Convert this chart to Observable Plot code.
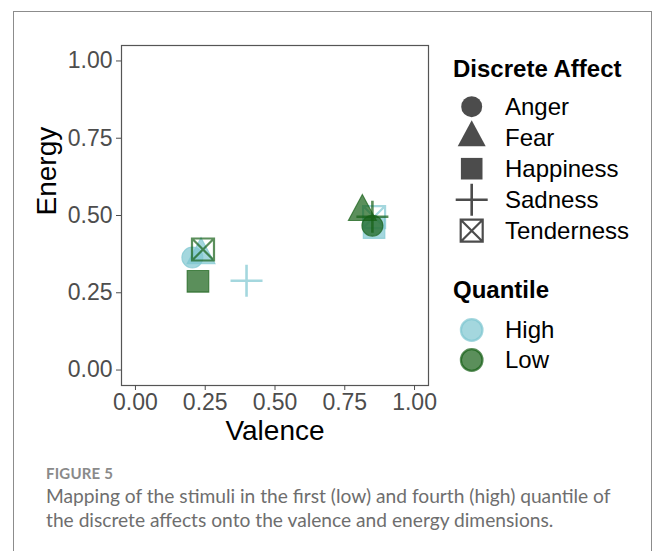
<!DOCTYPE html>
<html>
<head>
<meta charset="utf-8">
<script src="https://cdn.jsdelivr.net/npm/d3@7"></script>
<script src="https://cdn.jsdelivr.net/npm/@observablehq/plot@0.6"></script>
<style>
  html, body { margin: 0; padding: 0; background: #fff; }
  body { width: 658px; height: 551px; position: relative; overflow: hidden; font-family: "Liberation Sans", Arial, sans-serif; }
  #frame { position: absolute; left: 13px; top: 11px; width: 639px; height: 620px; border: 1.5px solid #8c8c8c; box-sizing: border-box; }
  #chart { position: absolute; left: 0; top: 0; }
  #legend { position: absolute; left: 440px; top: 40px; }
  #figlabel { position: absolute; left: 46px; top: 464px; font-family: Lato, sans-serif; font-weight: 700; font-size: 15px; color: #8a8a8a; letter-spacing: 0.2px; }
  #figtext { position: absolute; left: 46px; top: 484px; width: 575px; font-family: Lato, sans-serif; font-size: 19.2px; line-height: 23.5px; color: #6e6e6e; }
</style>
</head>
<body>
<div id="frame"></div>
<div id="chart"></div>
<div id="legend"></div>
<div id="figlabel">FIGURE 5</div>
<div id="figtext">Mapping of the stimuli in the first (low) and fourth (high) quantile of the discrete affects onto the valence and energy dimensions.</div>
<script>
// ---- data ----
const affects = ["Anger", "Fear", "Happiness", "Sadness", "Tenderness"];
const quantiles = ["High", "Low"];
const highValence = [0.204, 0.235, 0.855, 0.398, 0.855];
const highEnergy  = [0.364, 0.372, 0.461, 0.289, 0.495];
const lowValence  = [0.849, 0.813, 0.224, 0.849, 0.242];
const lowEnergy   = [0.467, 0.512, 0.287, 0.496, 0.390];
const xTicks = [0, 0.25, 0.5, 0.75, 1];
const yTicks = [0, 0.25, 0.5, 0.75, 1];
const xLabel = "Valence";
const yLabel = "Energy";
const legendTitleShape = "Discrete Affect";
const legendTitleColor = "Quantile";

const points = [];
affects.forEach((a, i) => points.push({affect: a, quantile: "High", valence: highValence[i], energy: highEnergy[i]}));
affects.forEach((a, i) => points.push({affect: a, quantile: "Low", valence: lowValence[i], energy: lowEnergy[i]}));

// ---- styles ----
const FONT = '"Liberation Sans", Arial, Helvetica, sans-serif';
const qColors = ["#7ec6d0", "#156015"];
const alpha = 0.7;
const R = 10.5;
const strokedAffects = ["Sadness", "Tenderness"];

// custom symbols (ggplot-like shapes 19, 17, 15, 3, 7)
const sc = size => Math.sqrt(size / Math.PI) / R;
const circleSym = {draw(ctx, size) { const r = Math.sqrt(size / Math.PI); ctx.moveTo(r, 0); ctx.arc(0, 0, r, 0, 2 * Math.PI); }};
const triSym = {draw(ctx, size) { const s = sc(size), h = 26 * s, b = 28 * s; ctx.moveTo(0, -2 * h / 3); ctx.lineTo(b / 2, h / 3); ctx.lineTo(-b / 2, h / 3); ctx.closePath(); }};
const squareSym = {draw(ctx, size) { const s = sc(size), a = 10.8 * s; ctx.rect(-a, -a, 2 * a, 2 * a); }};
const crossSym = {draw(ctx, size) { const s = sc(size), L = 16 * s; ctx.moveTo(-L, 0); ctx.lineTo(L, 0); ctx.moveTo(0, -L); ctx.lineTo(0, L); }};
const boxXSym = {draw(ctx, size) { const s = sc(size), a = 11 * s; ctx.rect(-a, -a, 2 * a, 2 * a); ctx.moveTo(-a, -a); ctx.lineTo(a, a); ctx.moveTo(a, -a); ctx.lineTo(-a, a); }};
const symbolRange = [circleSym, triSym, squareSym, crossSym, boxXSym];
const strokeW = {Sadness: 2.6, Tenderness: 2.2};

const marks = [Plot.frame({stroke: "#555", strokeWidth: 1.2})];
for (const q of quantiles) {
  marks.push(Plot.dot(points.filter(d => d.quantile === q && !strokedAffects.includes(d.affect)), {
    x: "valence", y: "energy", symbol: "affect", fill: "quantile", stroke: "quantile",
    r: R, fillOpacity: alpha, strokeOpacity: alpha, strokeWidth: 1.1
  }));
  for (const a of strokedAffects) {
    marks.push(Plot.dot(points.filter(d => d.quantile === q && d.affect === a), {
      x: "valence", y: "energy", symbol: "affect", stroke: "quantile", fill: "none",
      r: R, strokeOpacity: alpha, strokeWidth: strokeW[a]
    }));
  }
}
marks.push(
  Plot.axisX({ticks: xTicks, tickFormat: d => d.toFixed(2), tickSize: 5, tickPadding: 3, label: null, color: "#4d4d4d", fontSize: 23}),
  Plot.axisY({ticks: yTicks, tickFormat: d => d.toFixed(2), tickSize: 5, tickPadding: 4, label: null, color: "#4d4d4d", fontSize: 23}),
  Plot.text([xLabel], {text: d => d, frameAnchor: "bottom", lineAnchor: "middle", dy: 46, fontSize: 28, fill: "black"}),
  Plot.text([yLabel], {text: d => d, frameAnchor: "left", lineAnchor: "middle", dx: -74, rotate: -90, fontSize: 28, fill: "black"})
);

const chart = Plot.plot({
  width: 440, height: 450,
  marginLeft: 121, marginRight: 12, marginTop: 45, marginBottom: 65,
  x: {domain: [-0.05, 1.05]},
  y: {domain: [-0.05, 1.05]},
  symbol: {domain: affects, range: symbolRange},
  color: {domain: quantiles, range: qColors},
  style: {fontFamily: FONT, fontSize: "23px", background: "transparent", overflow: "visible"},
  marks
});
document.getElementById("chart").appendChild(chart);

// ---- legend (drawn from the same arrays) ----
const lg = d3.select("#legend").append("svg").attr("width", 218).attr("height", 340)
  .style("font-family", FONT);
lg.append("text").attr("x", 13).attr("y", 37).attr("font-size", 24).attr("font-weight", "bold").text(legendTitleShape);
const symArea = Math.PI * R * R;
affects.forEach((a, i) => {
  const cy = 66.7 + i * 31;
  const stroked = strokedAffects.includes(a);
  lg.append("path").attr("transform", `translate(31.7,${cy})`)
    .attr("d", d3.symbol(symbolRange[i], symArea)())
    .attr("fill", stroked ? "none" : "#000").attr("fill-opacity", alpha)
    .attr("stroke", "#000").attr("stroke-opacity", alpha)
    .attr("stroke-width", stroked ? strokeW[a] : 0);
  lg.append("text").attr("x", 65).attr("y", cy + 8.4).attr("font-size", 24).text(a);
});
lg.append("text").attr("x", 13).attr("y", 258).attr("font-size", 24).attr("font-weight", "bold").text(legendTitleColor);
quantiles.forEach((q, i) => {
  const cy = 290 + i * 30;
  lg.append("circle").attr("cx", 31.7).attr("cy", cy).attr("r", 10.8)
    .attr("fill", qColors[i]).attr("fill-opacity", alpha)
    .attr("stroke", qColors[i]).attr("stroke-opacity", alpha).attr("stroke-width", 2.2);
  lg.append("text").attr("x", 65).attr("y", cy + 8.4).attr("font-size", 24).text(q);
});
</script>
</body>
</html>
